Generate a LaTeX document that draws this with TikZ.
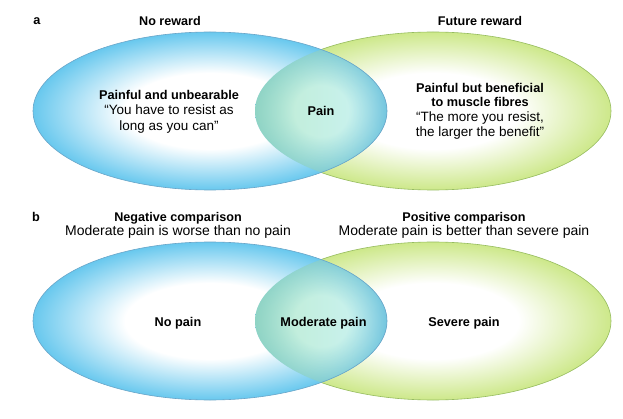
\documentclass[tikz,border=0pt]{standalone}
\usepackage{fontspec}
\setmainfont{Liberation Sans}
\usetikzlibrary{fadings}
\definecolor{bluerim}{RGB}{104,200,238}
\definecolor{blueline}{RGB}{105,165,200}
\definecolor{greenrim}{RGB}{205,232,138}
\definecolor{greenline}{RGB}{150,188,95}
\definecolor{lensin}{RGB}{205,244,248}
\definecolor{lensout}{RGB}{108,194,222}
\definecolor{lensgreen}{RGB}{175,228,170}
\pgfdeclareradialshading{blueshade}{\pgfpoint{0bp}{0bp}}{color(0bp)=(white); color(12bp)=(white); color(25bp)=(bluerim); color(50bp)=(bluerim)}
\pgfdeclareradialshading{greenshade}{\pgfpoint{0bp}{0bp}}{color(0bp)=(white); color(12bp)=(white); color(25bp)=(greenrim); color(50bp)=(greenrim)}
\pgfdeclareradialshading{lensshade}{\pgfpoint{0bp}{0bp}}{color(0bp)=(lensin); color(10bp)=(lensin); color(25bp)=(lensout); color(50bp)=(lensout)}
\tikzfading[name=greenfade, left color=transparent!50, right color=transparent!100]
\tikzset{
  panellabel/.style={font=\fontsize{12.7}{15}\selectfont\bfseries, inner sep=0pt},
  head/.style={font=\fontsize{12.6}{14}\selectfont\bfseries, inner sep=0pt, align=center},
  sub/.style={font=\fontsize{14}{14}\selectfont, inner sep=0pt, align=center},
  inlabel/.style={font=\fontsize{12.7}{15}\selectfont\bfseries, inner sep=0pt, align=center},
}
\newcommand{\vennpair}[1]{%
  \shade[shading=greenshade] (433,#1) ellipse (178 and 79);
  \draw[greenline, line width=0.6pt] (433,#1) ellipse (178 and 79);
  \shade[shading=blueshade] (210,#1) ellipse (177 and 79);
  \begin{scope}
    \clip (433,#1) ellipse (178 and 79);
    \clip (210,#1) ellipse (177 and 79);
    \shade[shading=lensshade] (321.5,#1) ellipse (68 and 64);
    \fill[lensgreen, path fading=greenfade] (255,#1-65) rectangle (390,#1+65);
  \end{scope}
  \draw[blueline, line width=0.6pt] (210,#1) ellipse (177 and 79);
}
\begin{document}
\begin{tikzpicture}[x=1pt,y=1pt]
\useasboundingbox (0,0) rectangle (623,418);
\fill[white] (0,0) rectangle (623,418);
% panel a
\vennpair{307}
\node[panellabel] (la) at (37,397) {a};
\node[head] (noreward) at (170,397) {No reward};
\node[head] (future) at (480,397) {Future reward};
\node[align=center, inner sep=0pt, font=\fontsize{13.5}{15.5}\selectfont] (lefttext) at (169,306.5) {%
  {\fontsize{12.7}{15.5}\selectfont\bfseries Painful and unbearable}\\
  “You have to resist as\\
  long as you can”};
\node[inlabel] (pain) at (321,307) {Pain};
\node[align=center, inner sep=0pt, font=\fontsize{13.5}{14.7}\selectfont] (righttext) at (480,307) {%
  {\fontsize{12.7}{14.7}\selectfont\bfseries Painful but beneficial}\\
  {\fontsize{12.7}{14.7}\selectfont\bfseries to muscle fibres}\\
  “The more you resist,\\
  the larger the benefit”};
% panel b
\vennpair{97}
\node[panellabel] (lb) at (36,201) {b};
\node[head] (neg) at (178,200) {Negative comparison};
\node[sub] (negsub) at (178,186) {Moderate pain is worse than no pain};
\node[head] (pos) at (464,200) {Positive comparison};
\node[sub] (possub) at (464,186) {Moderate pain is better than severe pain};
\node[inlabel] (nopain) at (178,95) {No pain};
\node[inlabel] (modpain) at (323.5,95) {Moderate pain};
\node[inlabel] (severe) at (464,95) {Severe pain};
\end{tikzpicture}
\end{document}
